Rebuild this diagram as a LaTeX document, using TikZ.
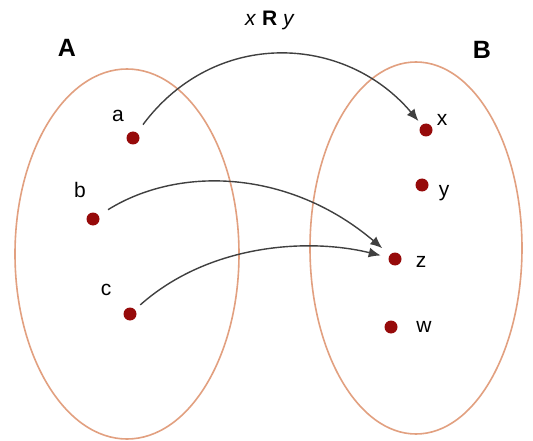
\documentclass[tikz,border=0pt]{standalone}
\usepackage{fontspec}
\setmainfont{Liberation Sans}
\usetikzlibrary{arrows.meta}
\definecolor{setcol}{RGB}{226,160,128}
\definecolor{dotcol}{RGB}{150,10,10}
\begin{document}
\begin{tikzpicture}[x=1pt,y=-1pt,
  setline/.style={draw=setcol, line width=1.6pt},
  dot/.style={circle, fill=dotcol, inner sep=0pt, minimum size=13pt},
  lbl/.style={font=\fontsize{21}{24}\selectfont, inner sep=0pt},
  setname/.style={font=\fontsize{25}{27}\selectfont\bfseries, inner sep=0pt},
  rel/.style={draw=black!75, line width=1.4pt, -{Latex[length=12pt,width=10pt]}}]
\useasboundingbox (0,0) rectangle (533,441);
\fill[white] (0,0) rectangle (533,441);
% sets
\draw[setline] (127,254) ellipse [x radius=112, y radius=185];
\draw[setline] (416,248) ellipse [x radius=106, y radius=186];
\node[setname] (A) at (67,48) {A};
\node[setname] (B) at (482,50) {B};
\node[lbl] (title) at (270,20) {\textit{x} \textbf{R} \textit{y}};
% elements
\node[dot] (a) at (133,138) {};
\node[dot] (b) at (93,219) {};
\node[dot] (c) at (130,314) {};
\node[dot] (x) at (426,130) {};
\node[dot] (y) at (422,185) {};
\node[dot] (z) at (395,259) {};
\node[dot] (w) at (391,327) {};
\node[lbl] (la) at (118,116) {a};
\node[lbl] (lb) at (80,190) {b};
\node[lbl] (lc) at (106,290) {c};
\node[lbl] (lx) at (442,120) {x};
\node[lbl] (ly) at (444,193) {y};
\node[lbl] (lz) at (421,262) {z};
\node[lbl] (lw) at (424,327) {w};
% relation arrows
\draw[rel, shorten <=10pt, shorten >=5pt] (a) .. controls (215,28) and (345,34) .. (x);
\draw[rel, shorten <=11pt, shorten >=10pt] (b) .. controls (180,165) and (290,170) .. (z);
\draw[rel, shorten <=7pt, shorten >=8pt] (c) .. controls (210,243) and (310,238) .. (z);
\end{tikzpicture}
\end{document}
